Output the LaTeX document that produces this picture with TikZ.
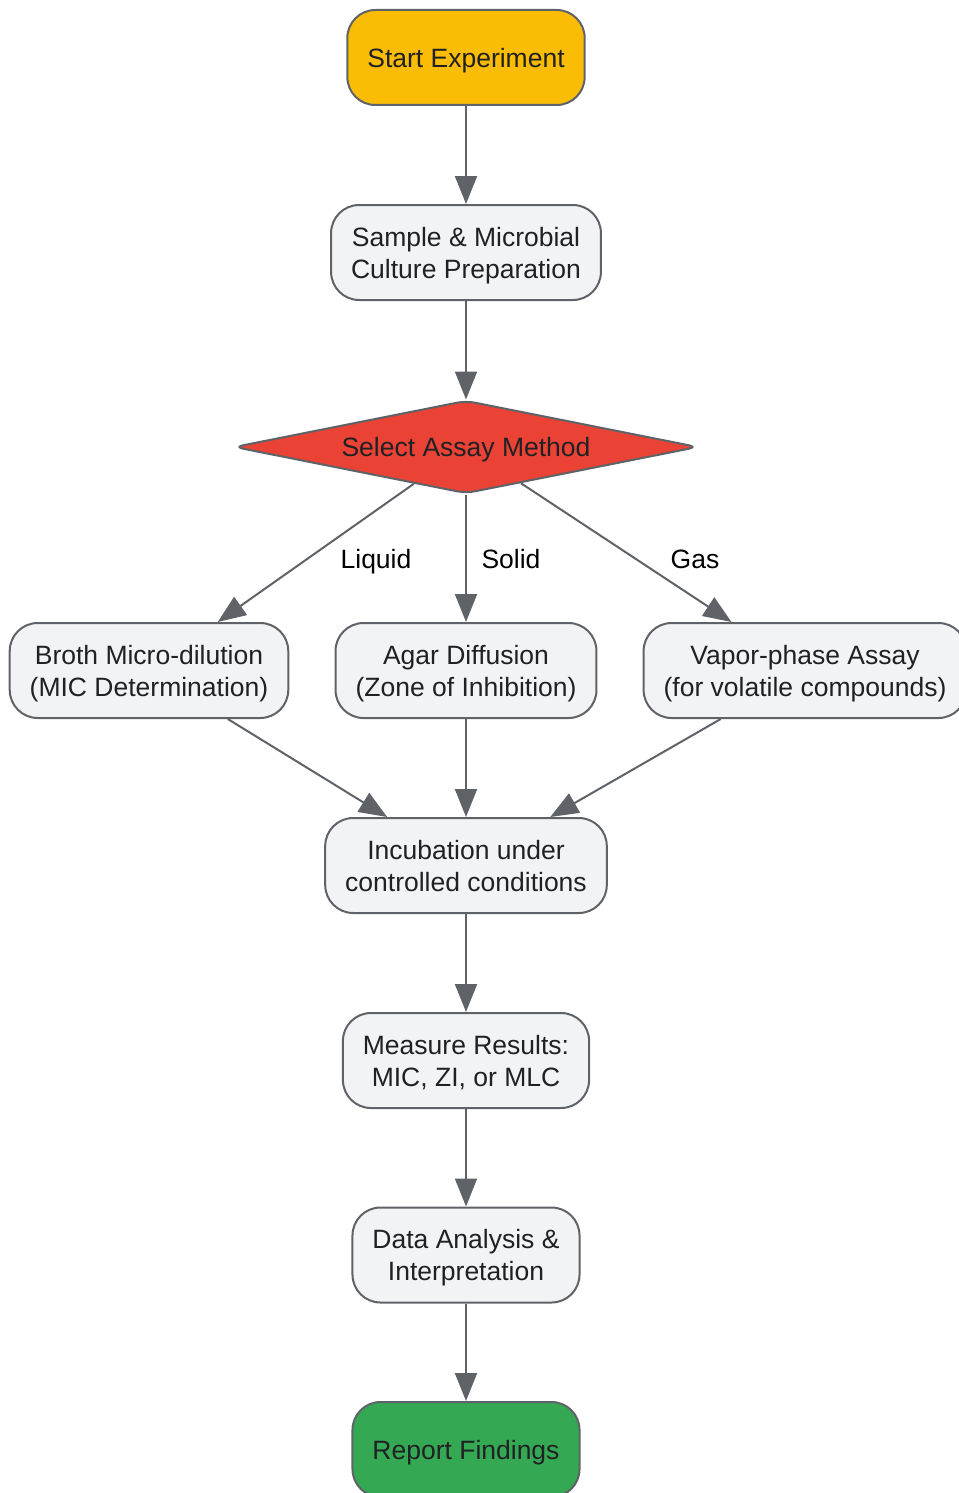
\documentclass[tikz,border=0pt]{standalone}
\usepackage{fontspec}
\setmainfont{Liberation Sans}
\usetikzlibrary{shapes.geometric,arrows.meta}
\definecolor{edgegray}{HTML}{5F6368}
\definecolor{boxfill}{HTML}{F1F3F4}
\definecolor{boxtext}{HTML}{202124}
\definecolor{startyellow}{HTML}{FBBC05}
\definecolor{assayred}{HTML}{EA4335}
\definecolor{endgreen}{HTML}{34A853}

\begin{document}
\begin{tikzpicture}[x=1pt, y=-1pt, font=\fontsize{26.5}{32}\selectfont]
        \useasboundingbox (0,0) rectangle (958,1493);

        \begin{scope}[every node/.style={rectangle, rounded corners=28pt, draw=edgegray, line width=2pt, fill=boxfill, text=boxtext, align=center, inner xsep=20pt, inner ysep=0pt, text depth=0pt, minimum height=95pt}]
            \node[fill=startyellow] (start) at (466, 57.5) {Start Experiment};
            \node (prep) at (466, 252.5) {Sample \& Microbial\\Culture Preparation};

            \node[diamond, aspect=5, fill=assayred, rounded corners=9pt, inner sep=0pt, minimum width=464pt, minimum height=93pt] (assay) at (466, 447) {Select Assay Method};

            \node (broth) at (149, 670.5) {Broth Micro-dilution\\(MIC Determination)};
            \node (agar) at (466, 670.5) {Agar Diffusion\\(Zone of Inhibition)};
            \node (vapor) at (805, 670.5) {Vapor-phase Assay\\(for volatile compounds)};

            \node (incub) at (466, 865.5) {Incubation under\\controlled conditions};
            \node (measure) at (466, 1060.5) {Measure Results:\\MIC, ZI, or MLC};
            \node (analysis) at (466, 1255) {Data Analysis \&\\Interpretation};
            \node[fill=endgreen] (report) at (466, 1449.5) {Report Findings};
        \end{scope}

        \node[anchor=base] (lliquid) at (376, 568) {Liquid};
        \node[anchor=base] (lsolid) at (511, 568) {Solid};
        \node[anchor=base] (lgas) at (695, 568) {Gas};

        \begin{scope}[every edge/.style={draw=edgegray, line width=2pt, -{Triangle[length=28pt, width=22pt]}}]
            \path (start) edge (prep);
            \path (prep) edge (assay);
            \path (assay) edge (broth);
            \path (assay) edge (agar);
            \path (assay) edge (vapor);
            \path (broth) edge (incub);
            \path (agar) edge (incub);
            \path (vapor) edge (incub);
            \path (incub) edge (measure);
            \path (measure) edge (analysis);
            \path (analysis) edge (report);
        \end{scope}
    \end{tikzpicture}
\end{document}
